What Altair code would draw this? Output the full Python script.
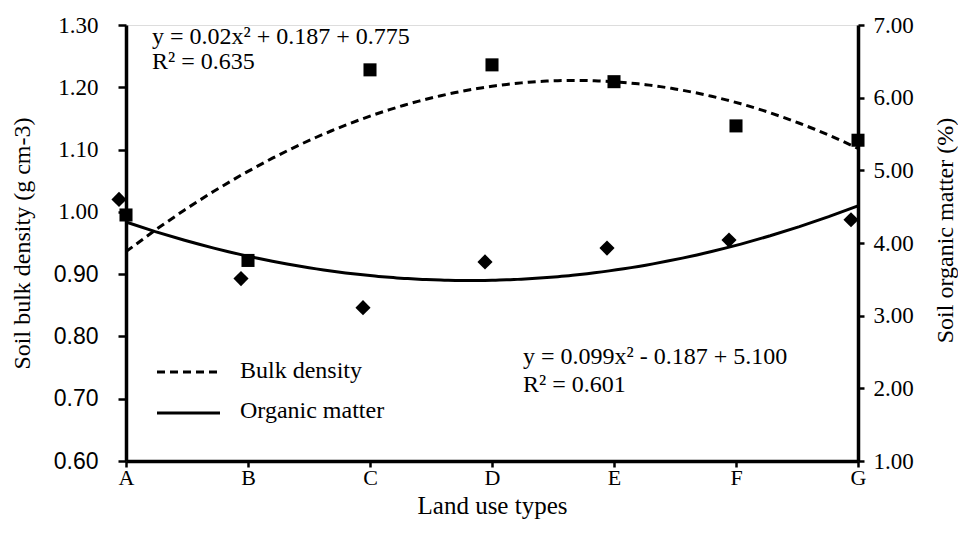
import altair as alt
import pandas as pd

categories = ["A", "B", "C", "D", "E", "F", "G"]
bulk_density = [0.995, 0.922, 1.228, 1.236, 1.209, 1.138, 1.115]
organic_matter = [4.60, 3.51, 3.11, 3.74, 3.93, 4.04, 4.32]
series_names = ["Bulk density", "Organic matter"]
left_ticks = [0.6, 0.7, 0.8, 0.9, 1.0, 1.1, 1.2, 1.3]
right_ticks = [1, 2, 3, 4, 5, 6, 7]
eq_bd = ["y = 0.02x² + 0.187 + 0.775", "R² = 0.635"]
eq_om = ["y = 0.099x² - 0.187 + 5.100", "R² = 0.601"]
x_title = "Land use types"
yl_title = "Soil bulk density (g cm-3)"
yr_title = "Soil organic matter (%)"

SERIF = "Liberation Serif"
SANS = "Liberation Sans"
W, H = 732, 436

df = pd.DataFrame({
    "idx": list(range(1, len(categories) + 1)),
    "cat": categories,
    "bd": bulk_density,
    "om": organic_matter,
})

label_expr = "[" + ",".join("'%s'" % c for c in categories) + "][datum.value - 1]"

x_axis = alt.Axis(
    values=list(range(1, len(categories) + 1)), labelExpr=label_expr, labelFlush=False,
    tickSize=6, tickWidth=2.5, tickColor="black", domainWidth=3.5, domainColor="black",
    labelPadding=0, labelFont=SERIF, labelFontSize=22, labelColor="black",
    title=x_title, titleFont=SERIF, titleFontSize=25, titleFontWeight="normal",
    titleColor="black", titlePadding=5, grid=False,
)
X = alt.X("idx:Q", scale=alt.Scale(domain=[1, len(categories)], nice=False, zero=False), axis=x_axis)

yl_axis = alt.Axis(
    orient="left", values=left_ticks, format=".2f",
    tickSize=8, tickWidth=2.5, tickColor="black", domainWidth=3.5, domainColor="black",
    labelPadding=20, labelFontSize=23, labelColor="black",
    labelFont={"condition": {"test": "datum.value < 0.95", "value": SANS}, "value": SERIF},
    title=yl_title, titleFont=SERIF, titleFontSize=24, titleFontWeight="normal",
    titleColor="black", titleX=-104, titleBaseline="middle", grid=False,
)
yr_axis = alt.Axis(
    orient="right", values=right_ticks, format=".2f",
    tickSize=6, tickWidth=2.5, tickColor="black", domainWidth=3.5, domainColor="black",
    labelPadding=9, labelFont=SERIF, labelFontSize=23, labelColor="black",
    title=yr_title, titleFont=SERIF, titleFontSize=24, titleFontWeight="normal",
    titleColor="black", titleX=87, titleY=205, titleAngle=270, titleBaseline="middle", grid=False,
)
YL = alt.Y("bd:Q", scale=alt.Scale(domain=[0.6, 1.3], nice=False, zero=False), axis=yl_axis)
YR = alt.Y("om:Q", scale=alt.Scale(domain=[1, 7], nice=False, zero=False), axis=yr_axis)

base = alt.Chart(df)

bd_fit = base.transform_regression("idx", "bd", method="poly", order=2).mark_line(
    color="black", strokeWidth=3, strokeDash=[8, 5]).encode(x=X, y=YL)
bd_pts = base.mark_point(shape="square", filled=True, size=170, color="black", opacity=1).encode(x=X, y=YL)

om_fit = base.transform_regression("idx", "om", method="poly", order=2).mark_line(
    color="black", strokeWidth=3).encode(x=X, y=YR)
om_pts = base.mark_point(shape="diamond", filled=True, size=230, color="black", opacity=1,
                         xOffset=-7).encode(x=X, y=YR)

left_layer = alt.layer(bd_fit, bd_pts)
right_layer = alt.layer(om_fit, om_pts)


def txt(s, x, y, size=24):
    return alt.Chart(pd.DataFrame({"t": [s]})).mark_text(
        align="left", baseline="middle", font=SERIF, fontSize=size, color="black"
    ).encode(text="t:N", x=alt.value(x), y=alt.value(y))


def leg_rule(y, dash):
    return alt.Chart(pd.DataFrame({"t": [0]})).mark_rule(
        color="black", strokeWidth=3, strokeDash=dash
    ).encode(x=alt.value(31), x2=alt.value(94), y=alt.value(y))


annots = [
    txt(eq_bd[0], 26, 12), txt(eq_bd[1], 26, 37),
    txt(eq_om[0], 397, 332), txt(eq_om[1], 397, 360),
    leg_rule(347, [8, 5]), txt(series_names[0], 114, 346),
    leg_rule(388, [1, 0]), txt(series_names[1], 114, 386),
]

chart = alt.layer(left_layer, right_layer, *annots).resolve_scale(y="independent").properties(
    width=W, height=H,
    autosize=alt.AutoSizeParams(type="none"),
    padding={"left": 118, "top": 17, "right": 100, "bottom": 80},
).configure_view(stroke=None).configure(background="white")

chart.save("out.html", embed_options={"renderer": "svg", "actions": False})
